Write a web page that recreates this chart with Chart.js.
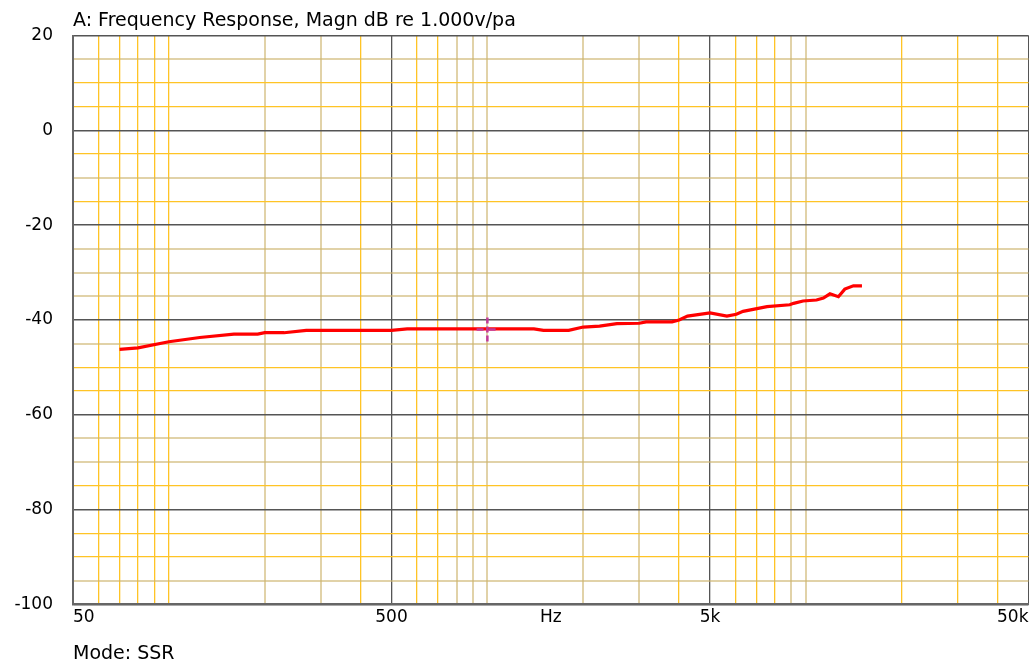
<!DOCTYPE html>
<html>
<head>
<meta charset="utf-8">
<script src="https://cdn.jsdelivr.net/npm/chart.js@4.4.1/dist/chart.umd.min.js"></script>
<style>
  html, body { margin:0; padding:0; background:#fff; }
  #wrap { width:1029px; height:661px; }
</style>
</head>
<body>
<div id="wrap"><canvas id="fr" width="1029" height="661"></canvas></div>
<script>
// ── Data ──────────────────────────────────────────────────────────────────────
const FREQ_HZ = [70, 80, 100, 125, 160, 190, 200, 230, 270, 500,
                 560, 1300, 1400, 1500, 1800, 2000, 2250, 2550, 3000, 3150,
                 3800, 4000, 4250, 5000, 5650, 6050, 6350, 7550, 8900, 9150,
                 9800, 10800, 11350, 11900, 12650, 13250, 14100, 15000];
const MAGN_DB = [-46.2, -45.9, -44.6, -43.7, -43.0, -43.0, -42.7, -42.7, -42.2, -42.2,
                 -41.9, -41.9, -41.9, -42.2, -42.2, -41.5, -41.3, -40.8, -40.7, -40.4,
                 -40.4, -40.0, -39.2, -38.5, -39.2, -38.8, -38.2, -37.2, -36.8, -36.5,
                 -36.0, -35.8, -35.4, -34.5, -35.1, -33.5, -32.8, -32.8];

// cursor cross at 1 kHz
const CURSOR_V_FREQ = [1000, 1000];
const CURSOR_V_DB   = [-39.5, -44.6];
const CURSOR_H_FREQ = [925, 1080];
const CURSOR_H_DB   = [-42, -42];

const X_TICK_VALUES = [50, 500, 1581, 5000, 50000];
const X_TICK_LABELS = ["50", "500", "Hz", "5k", "50k"];
const Y_TICK_VALUES = [20, 0, -20, -40, -60, -80, -100];
const Y_TICK_LABELS = ["20", "0", "-20", "-40", "-60", "-80", "-100"];

const TITLE    = "A: Frequency Response, Magn dB re 1.000v/pa";
const SUBTITLE = "Mode: SSR";

// ── Grid styling ──────────────────────────────────────────────────────────────
const MAJOR = "#555";
const YELLOW = "#ffc425";
const TAN = "rgba(205,180,110,0.6)";
const TAN_X = [200, 300, 800, 900, 1000, 2000, 3000, 9000, 10000];
const TAN_Y = [15, -10, -25, -30, -35, -45, -65, -70, -95];
const FAMILY = "'DejaVu Sans', Verdana, sans-serif";
const FONT = { family: FAMILY, size: 17 };

// 1-2-..-9 decade grid between 50 Hz and 50 kHz, plus the "Hz" label slot
function xGrid() {
  const out = [];
  for (let dec = 10; dec <= 10000; dec *= 10)
    for (let m = 1; m <= 9; m++) {
      const v = m * dec;
      if (v >= 50 && v <= 50000) out.push(v);
    }
  out.push(1581);
  return out.sort((a, b) => a - b);
}
const near = (list, v) => list.some(t => Math.abs(t - v) / t < 1e-3);

function pts(xs, ys) { return xs.map((x, i) => ({ x, y: ys[i] })); }

// ── Chart ─────────────────────────────────────────────────────────────────────
new Chart(document.getElementById("fr").getContext("2d"), {
  type: "line",
  data: {
    datasets: [
      { label:"Magn", data:pts(FREQ_HZ, MAGN_DB), borderColor:"#ff0000", borderWidth:3.2,
        pointRadius:0, tension:0, order:2 },
      { label:"cursorV", data:pts(CURSOR_V_FREQ, CURSOR_V_DB), borderColor:"#c23a9a", borderWidth:2.5,
        borderDash:[6,3], pointRadius:0, order:1 },
      { label:"cursorH", data:pts(CURSOR_H_FREQ, CURSOR_H_DB), borderColor:"#c23a9a", borderWidth:2.5,
        borderDash:[7,5], pointRadius:0, order:1 }
    ]
  },
  options: {
    responsive:false, animation:false, devicePixelRatio:1,
    layout: { padding: { left:0, right:0.5, top:0, bottom:0 } },
    plugins: {
      legend: { display:false },
      tooltip: { enabled:false },
      title: { display:true, text:TITLE, align:"start", fullSize:false, color:"#000",
               font:{ family:FAMILY, size:19, weight:"normal", lineHeight:1.2 }, padding:{ top:10, bottom:2.7 } },
      subtitle: { display:true, text:SUBTITLE, position:"bottom", align:"start", fullSize:false, color:"#000",
                  font:{ family:FAMILY, size:19, lineHeight:0.75 }, padding:{ top:22.4, bottom:0 } }
    },
    scales: {
      x: {
        type:"logarithmic", min:50, max:50000,
        afterBuildTicks: s => { s.ticks = xGrid().map(v => ({ value:v })); },
        afterFit: s => { s.height = 20; },
        border: { color:"#666", width:2 },
        grid: {
          drawTicks:false,
          color: c => {
            const v = c.tick.value;
            if (near([1581], v)) return "rgba(0,0,0,0)";
            if (near([50, 500, 5000, 50000], v)) return MAJOR;
            return near(TAN_X, v) ? TAN : YELLOW;
          },
          lineWidth: c => near(TAN_X, c.tick.value) ? 2 : 1.3
        },
        ticks: {
          autoSkip:false, maxRotation:0, align:"inner", padding:0, color:"#000",
          font:{ ...FONT, lineHeight:1.55 },
          callback: v => { const i = X_TICK_VALUES.findIndex(t => Math.abs(t - v) / t < 1e-3); return i >= 0 ? X_TICK_LABELS[i] : ""; }
        }
      },
      y: {
        min:-100, max:20,
        afterFit: s => { s.width = 73; },
        border: { color:"#666", width:2 },
        grid: {
          drawTicks:false,
          color: c => Y_TICK_VALUES.includes(c.tick.value) ? MAJOR : (TAN_Y.includes(c.tick.value) ? TAN : YELLOW),
          lineWidth: c => Y_TICK_VALUES.includes(c.tick.value) ? 1.5 : (TAN_Y.includes(c.tick.value) ? 2 : 1.3)
        },
        ticks: {
          stepSize:5, autoSkip:false, padding:20, color:"#000", font:FONT,
          callback: v => { const i = Y_TICK_VALUES.indexOf(v); return i >= 0 ? Y_TICK_LABELS[i] : ""; }
        }
      }
    }
  }
});
</script>
</body>
</html>
